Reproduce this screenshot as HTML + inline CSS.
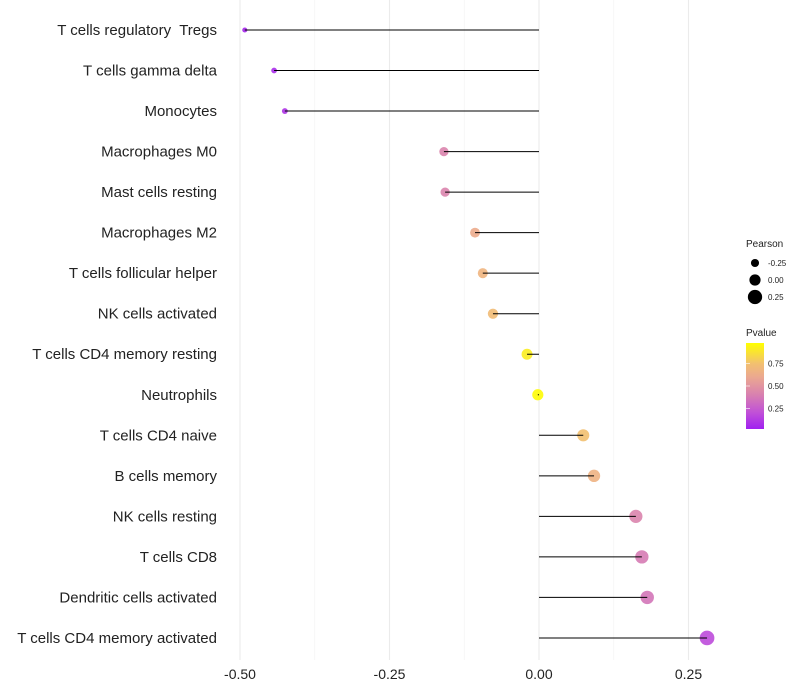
<!DOCTYPE html>
<html><head><meta charset="utf-8"><style>
body{margin:0;background:#fff;font-family:"Liberation Sans",sans-serif}
</style></head><body>
<svg id="chart" width="800" height="700" style="display:block"></svg>
<script>
const categories=["T cells regulatory  Tregs","T cells gamma delta","Monocytes","Macrophages M0","Mast cells resting","Macrophages M2","T cells follicular helper","NK cells activated","T cells CD4 memory resting","Neutrophils","T cells CD4 naive","B cells memory","NK cells resting","T cells CD8","Dendritic cells activated","T cells CD4 memory activated"];
const pearson=[-0.492,-0.443,-0.425,-0.159,-0.157,-0.107,-0.094,-0.077,-0.020,-0.002,0.074,0.092,0.162,0.172,0.181,0.281];
const pvalue=[0.03,0.05,0.08,0.42,0.42,0.62,0.68,0.72,0.93,0.99,0.75,0.66,0.42,0.38,0.36,0.18];
const xTicks=[-0.5,-0.25,0,0.25];
const xTickLabels=["-0.50","-0.25","0.00","0.25"];
const legendSizes=[-0.25,0,0.25];
const legendSizeLabels=["-0.25","0.00","0.25"];
const legendP=[0.75,0.5,0.25];
const legendPLabels=["0.75","0.50","0.25"];

const NS="http://www.w3.org/2000/svg";
const svg=document.getElementById('chart');
function mk(t,a,p){const e=document.createElementNS(NS,t);for(const k in a)e.setAttribute(k,a[k]);(p||svg).appendChild(e);return e;}
const x=v=>539+v*598;
const y=i=>30+i*40.53;
const r=v=>5.6+6.2*v;
const stops=[[0,[160,32,240]],[0.2,[192,80,216]],[0.4,[216,128,176]],[0.6,[235,168,144]],[0.75,[242,192,112]],[1,[255,255,0]]];
function col(p){for(let i=1;i<stops.length;i++){if(p<=stops[i][0]){const a=stops[i-1],b=stops[i],t=(p-a[0])/(b[0]-a[0]);return 'rgb('+a[1].map((c,j)=>Math.round(c+(b[1][j]-c)*t)).join(',')+')';}}return 'rgb(255,255,0)';}

// grid
[-0.375,-0.125,0.125].forEach(v=>{const g=mk('line',{x1:x(v),x2:x(v),y1:0,y2:660,stroke:'#f2f2f2','stroke-width':0.6});

});
xTicks.forEach((v,i)=>{const g=mk('line',{x1:x(v),x2:x(v),y1:0,y2:660,stroke:'#ebebeb','stroke-width':1.1});


const t=mk('text',{x:x(v),y:679,'text-anchor':'middle','font-size':14,fill:'#222'});t.textContent=xTickLabels[i];

});

categories.forEach((c,i)=>{
const t=mk('text',{x:217,y:y(i)+5,'text-anchor':'end','font-size':15,fill:'#222','xml:space':'preserve',style:'white-space:pre'});t.textContent=c;


const p=mk('circle',{cx:x(pearson[i]),cy:y(i),r:r(pearson[i]),fill:col(pvalue[i]),'fill-opacity':0.9});


const ln=mk('line',{x1:x(0),x2:x(pearson[i]),y1:y(i),y2:y(i),stroke:'#000','stroke-width':1});


});

// legend
const lt=mk('text',{x:746,y:247,'font-size':10,fill:'#222'});lt.textContent='Pearson';


legendSizes.forEach((v,i)=>{const cy=263+i*17;
const c=mk('circle',{cx:755,cy:cy,r:r(v),fill:'#000'});


const t=mk('text',{x:768,y:cy+3,'font-size':8,fill:'#222'});t.textContent=legendSizeLabels[i];

});
const pt=mk('text',{x:746,y:336,'font-size':10,fill:'#222'});pt.textContent='Pvalue';


const defs=mk('defs',{});const lg=mk('linearGradient',{id:'pg',x1:0,y1:1,x2:0,y2:0},defs);
const pmin=0.02,pmax=0.98;
stops.forEach(s=>{const p=Math.min(1,Math.max(0,s[0]));mk('stop',{offset:Math.min(1,Math.max(0,(p-pmin)/(pmax-pmin))),'stop-color':col(p)},lg);});
const bar=mk('rect',{x:746,y:343,width:18,height:86,fill:'url(#pg)'});


const py=p=>429-(p-pmin)/(pmax-pmin)*86;
legendP.forEach((v,i)=>{
const tk=mk('line',{x1:746,x2:750,y1:py(v),y2:py(v),stroke:'#fff','stroke-width':0.6});


const t=mk('text',{x:768,y:py(v)+3,'font-size':8,fill:'#222'});t.textContent=legendPLabels[i];

});
</script>
</body></html>
